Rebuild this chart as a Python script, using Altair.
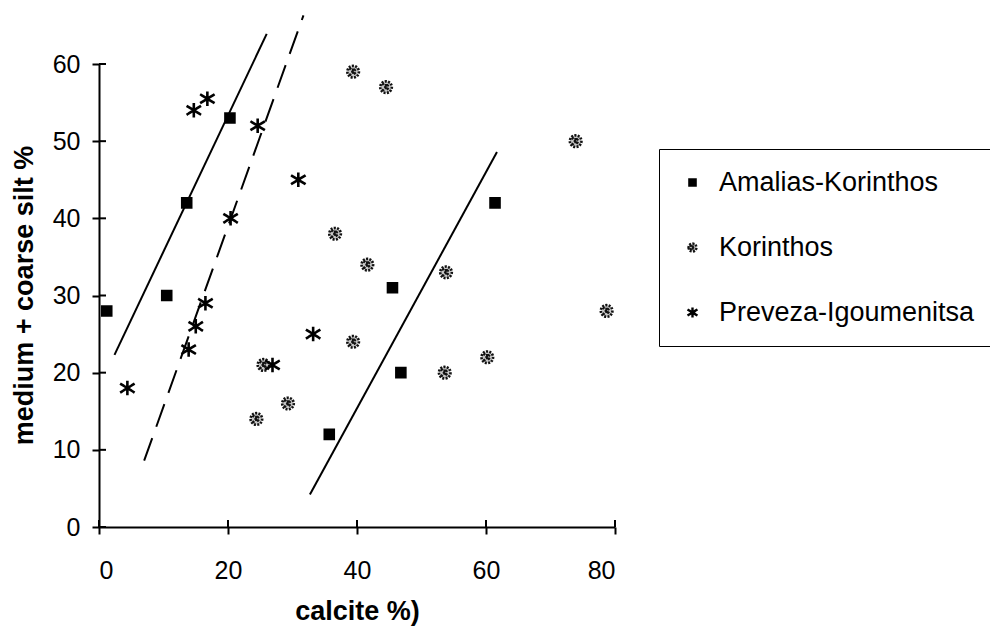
import altair as alt
import pandas as pd

# ---------------- data ----------------
series_names = ["Amalias-Korinthos", "Korinthos", "Preveza-Igoumenitsa"]

amalias_calcite = [1.2, 10.5, 13.6, 20.3, 35.7, 45.5, 46.8, 61.4]
amalias_silt = [28, 30, 42, 53, 12, 31, 20, 42]

korinthos_calcite = [39.4, 44.5, 73.9, 36.6, 41.6, 53.8, 78.7, 39.4, 60.2, 53.6, 25.5, 29.3, 24.4]
korinthos_silt = [59, 57, 50, 38, 34, 33, 28, 24, 22, 20, 21, 16, 14]

preveza_calcite = [14.7, 16.8, 24.6, 30.9, 20.4, 16.5, 15.0, 33.2, 13.9, 4.4, 26.9]
preveza_silt = [54, 55.5, 52, 45, 40, 29, 26, 25, 23, 18, 21]

# trend lines (two solid, one dashed), endpoints
solid_line_id = ["s1", "s1", "s2", "s2"]
solid_line_x = [2.4, 26.0, 32.7, 61.7]
solid_line_y = [22.3, 63.9, 4.2, 48.6]
dashed_line_x = [7.0, 31.7]
dashed_line_y = [8.6, 66.3]

x_ticks = [0, 20, 40, 60, 80]
y_ticks = [0, 10, 20, 30, 40, 50, 60]

# ---------------- tables ----------------
rows = []
for cx, sy in zip(amalias_calcite, amalias_silt):
    rows.append({"series": series_names[0], "calcite": cx, "silt": sy})
for cx, sy in zip(korinthos_calcite, korinthos_silt):
    rows.append({"series": series_names[1], "calcite": cx, "silt": sy})
for cx, sy in zip(preveza_calcite, preveza_silt):
    rows.append({"series": series_names[2], "calcite": cx, "silt": sy})
points = pd.DataFrame(rows)

solid = pd.DataFrame({"id": solid_line_id, "calcite": solid_line_x, "silt": solid_line_y})
dashed = pd.DataFrame({"calcite": dashed_line_x, "silt": dashed_line_y})
xt = pd.DataFrame({"v": x_ticks})
yt = pd.DataFrame({"v": y_ticks})

FONT = "Liberation Sans"

xscale = alt.Scale(domain=[0, 80], nice=False, zero=False)
yscale = alt.Scale(domain=[0, 60], nice=False, zero=False)

square_path = "M-0.62,-0.62H0.62V0.62H-0.62Z"
hatch_path = ("M-0.8,0A0.8,0.8 0 1,0 0.8,0A0.8,0.8 0 1,0 -0.8,0Z"
              "M-0.5,-0.5L0.5,0.5M-0.5,0.5L0.5,-0.5M0,-0.45V0.45")
star_path = "M0,-1V1M-1,-0.62L1,0.62M-1,0.62L1,-0.62"

leg = alt.Legend(
    title=None, orient="none", legendX=560, legendY=85,
    padding=20, strokeColor="black", labelFont=FONT, labelFontSize=27,
    labelColor="black", labelOffset=13, rowPadding=37, symbolSize=100,
    symbolOffset=0, symbolStrokeWidth=2.4, labelLimit=500,
)

x_axis = alt.Axis(
    values=x_ticks, title="calcite %)", labelPadding=24, titleX=258,
    titleY=92, titleBaseline="alphabetic",
)
y_axis = alt.Axis(
    values=y_ticks, title="medium + coarse silt %", labelPadding=12,
    titleX=-67, titleY=231, titleAngle=270, titleBaseline="alphabetic",
    titleAlign="center",
)

lines_solid = alt.Chart(solid).mark_line(
    color="black", strokeWidth=2, clip=False
).encode(
    x=alt.X("calcite:Q", scale=xscale, axis=x_axis),
    y=alt.Y("silt:Q", scale=yscale, axis=y_axis),
    detail="id:N",
)

lines_dashed = alt.Chart(dashed).mark_line(
    color="black", strokeWidth=2, strokeDash=[24, 12], clip=False
).encode(
    x=alt.X("calcite:Q", scale=xscale),
    y=alt.Y("silt:Q", scale=yscale),
)

# inner halves of the crossing axis ticks
xtick_marks = alt.Chart(xt).mark_rule(
    color="black", strokeWidth=2, clip=False
).encode(x=alt.X("v:Q", scale=xscale), y=alt.datum(0), y2=alt.datum(0.9))

ytick_marks = alt.Chart(yt).mark_rule(
    color="black", strokeWidth=2, clip=False
).encode(y=alt.Y("v:Q", scale=yscale), x=alt.datum(0), x2=alt.datum(1.09))

pts = alt.Chart(points).mark_point(
    size=210, strokeWidth=2.6, opacity=1, clip=False
).encode(
    x=alt.X("calcite:Q", scale=xscale),
    y=alt.Y("silt:Q", scale=yscale),
    shape=alt.Shape("series:N", scale=alt.Scale(domain=series_names,
                    range=[square_path, hatch_path, star_path]), legend=leg),
    fill=alt.Fill("series:N", scale=alt.Scale(domain=series_names,
                  range=["black", "#c8c8c8", "transparent"]), legend=leg),
    stroke=alt.Stroke("series:N", scale=alt.Scale(domain=series_names,
                      range=["black", "#111111", "black"]), legend=leg),
    strokeDash=alt.StrokeDash("series:N", scale=alt.Scale(domain=series_names,
                              range=[[1, 0], [2, 1.3], [1, 0]]), legend=leg),
)

chart = alt.layer(lines_solid, lines_dashed, xtick_marks, ytick_marks, pts).properties(
    width=516, height=463,
    autosize=alt.AutoSizeParams(type="none"),
    padding={"left": 91, "top": 56, "right": 375, "bottom": 99},
    background="white",
).configure_view(stroke=None).configure_axis(
    domainColor="black", domainWidth=2, tickColor="black", tickWidth=2,
    tickSize=7, grid=False, labelFont=FONT, labelFontSize=25,
    labelColor="black", titleFont=FONT, titleFontSize=27,
    titleFontWeight="bold", titleColor="black",
)

chart.save("out.html", embed_options={"renderer": "svg", "actions": False})
